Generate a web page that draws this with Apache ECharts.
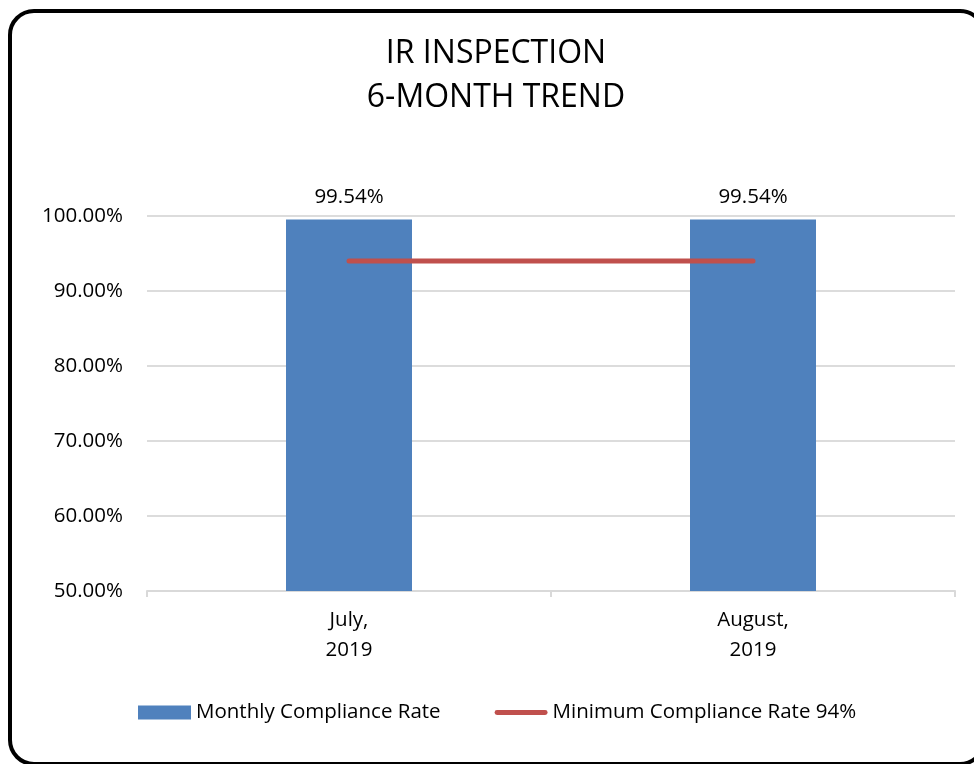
<!DOCTYPE html>
<html>
<head>
<meta charset="utf-8">
<script src="https://cdn.jsdelivr.net/npm/echarts@6/dist/echarts.min.js"></script>
<style>
html,body{margin:0;padding:0;background:#fff;}
#c{width:974px;height:764px;}
</style>
</head>
<body>
<div id="c"></div>
<script>
const categories = ['July,\n2019', 'August,\n2019'];
const monthlyRate = [99.54, 99.54];
const minimumRate = [94, 94];
const yTicks = [50, 60, 70, 80, 90, 100];
const seriesNames = ['Monthly Compliance Rate', 'Minimum Compliance Rate 94%'];
const titleLines = ['IR INSPECTION', '6-MONTH TREND'];

const FONT = '"Open Sans", sans-serif';
const chart = echarts.init(document.getElementById('c'), null, {renderer: 'canvas'});
chart.setOption({
  animation: false,
  backgroundColor: '#fff',
  title: {
    text: titleLines.join('\n'),
    left: 496,
    top: 32,
    padding: 0,
    textAlign: 'center',
    textStyle: {fontFamily: FONT, fontSize: 32, fontWeight: 'normal', color: '#000', lineHeight: 44}
  },
  graphic: [{
    type: 'rect',
    shape: {x: 10, y: 11, width: 974, height: 753, r: 24},
    style: {fill: 'none', stroke: '#000', lineWidth: 4},
    z: 100,
    silent: true
  }],
  grid: {left: 147, right: 19, top: 216, bottom: 173, containLabel: false},
  legend: {
    left: 138,
    top: 702,
    padding: 0,
    itemGap: 54,
    itemWidth: 53,
    itemHeight: 14,
    textStyle: {fontFamily: FONT, fontSize: 20.5, color: '#000'},
    data: [
      {name: seriesNames[0], icon: 'rect'},
      {name: seriesNames[1], icon: 'path://M2.5,0 L52.5,0 A2.5,2.5 0 0 1 52.5,5 L2.5,5 A2.5,2.5 0 0 1 2.5,0 Z'}
    ]
  },
  xAxis: {
    type: 'category',
    data: categories,
    boundaryGap: true,
    axisLine: {lineStyle: {color: '#d9d9d9', width: 2}},
    axisTick: {show: true, length: 6, lineStyle: {color: '#d9d9d9', width: 2}},
    axisLabel: {fontFamily: FONT, fontSize: 20.5, color: '#000', lineHeight: 30, margin: 14}
  },
  yAxis: {
    type: 'value',
    min: yTicks[0],
    max: yTicks[yTicks.length - 1],
    interval: 10,
    axisLine: {show: false},
    axisTick: {show: false},
    splitLine: {lineStyle: {color: '#dcdcdc', width: 2}},
    axisLabel: {fontFamily: FONT, fontSize: 20.5, color: '#000', margin: 24,
      formatter: v => v.toFixed(2) + '%'}
  },
  series: [
    {
      name: seriesNames[0],
      type: 'bar',
      data: monthlyRate,
      barWidth: 126,
      itemStyle: {color: '#4f81bd'},
      label: {show: true, position: 'top', distance: 12, fontFamily: FONT, fontSize: 20.5, color: '#000',
        formatter: p => p.value.toFixed(2) + '%'}
    },
    {
      name: seriesNames[1],
      type: 'line',
      data: minimumRate,
      symbol: 'none',
      lineStyle: {color: '#c0504d', width: 5, cap: 'round'},
      itemStyle: {color: '#c0504d'},
      z: 5
    }
  ]
});
</script>
</body>
</html>
